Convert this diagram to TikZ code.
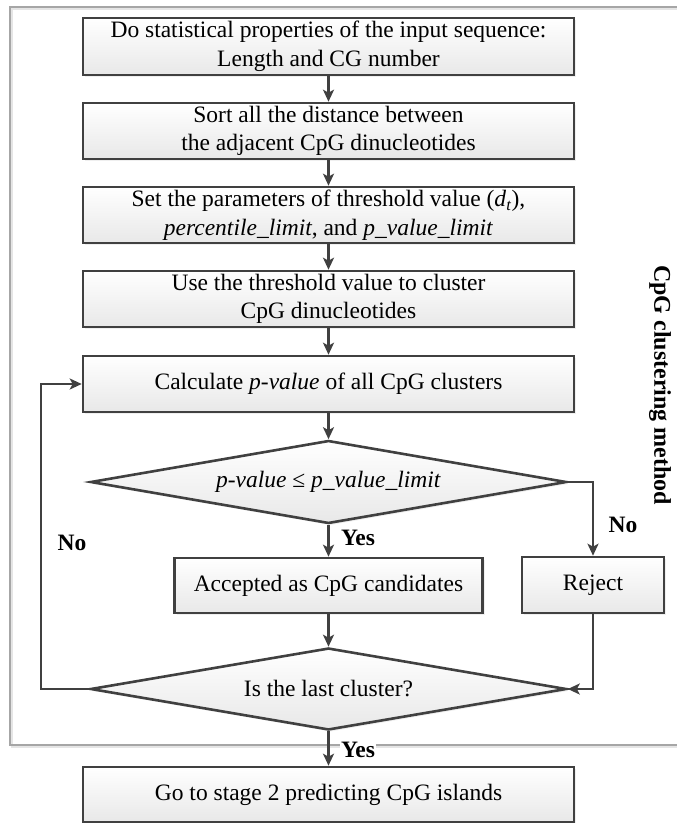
\documentclass[tikz,border=0pt]{standalone}
\usepackage{fontspec}
\setmainfont{Liberation Serif}
\usetikzlibrary{shapes.geometric,arrows.meta,shadows}
\definecolor{ln}{HTML}{404040}
\definecolor{fr}{HTML}{A6A6A6}
\tikzset{
  stepbox/.style={draw=ln, line width=2.6pt, top color=white, bottom color=black!9,
    inner sep=0pt, align=center, font=\fontsize{23.5}{28.5}\selectfont,
    drop shadow={shadow xshift=2pt, shadow yshift=-2pt, fill=black!12}},
  decision/.style={stepbox, diamond, shape aspect=5.7},
  arr/.style={draw=ln, line width=2.6pt, -{Stealth[length=12pt,width=11pt,inset=3pt]}},
  lbl/.style={font=\fontsize{23.5}{28}\selectfont\bfseries, inner sep=1pt},
}
\begin{document}
\begin{tikzpicture}[x=1pt,y=-1pt]
\useasboundingbox (0,0) rectangle (677,823);
\begin{scope}
  \clip (0,0) rectangle (677,823);
  \draw[black!10, line width=2.8pt] (12,9) rectangle (702,747);
  \draw[fr, line width=2.8pt] (10,7) rectangle (700,745);
\end{scope}

\node[stepbox, minimum width=491pt, minimum height=57pt] (b1) at (328.5,46.5)
  {Do statistical properties of the input sequence:\\Length and CG number};
\node[stepbox, minimum width=491pt, minimum height=56pt] (b2) at (328.5,131)
  {Sort all the distance between\\the adjacent CpG dinucleotides};
\node[stepbox, minimum width=491pt, minimum height=56pt] (b3) at (328.5,215)
  {Set the parameters of threshold value (\textit{d}\textsubscript{\textit{t}}),\\\textit{percentile\_limit}, and \textit{p\_value\_limit}};
\node[stepbox, minimum width=491pt, minimum height=56pt] (b4) at (328.5,299)
  {Use the threshold value to cluster\\CpG dinucleotides};
\node[stepbox, minimum width=491pt, minimum height=56pt] (b5) at (328.5,384)
  {Calculate \textit{p-value} of all CpG clusters};
\node[decision, minimum width=476pt, minimum height=83pt] (d1) at (328.5,482)
  {\textit{p-value} ≤ \textit{p\_value\_limit}};
\node[stepbox, minimum width=308pt, minimum height=55pt] (acc) at (328.5,585.5)
  {Accepted as CpG candidates};
\node[stepbox, minimum width=142pt, minimum height=56pt] (rej) at (593,585)
  {Reject};
\node[decision, minimum width=476pt, minimum height=82pt] (d2) at (328.5,689)
  {Is the last cluster?};
\node[stepbox, minimum width=491pt, minimum height=55pt] (fin) at (328.5,794.5)
  {Go to stage 2 predicting CpG islands};

\draw[arr] (b1.south) -- (b2.north);
\draw[arr] (b2.south) -- (b3.north);
\draw[arr] (b3.south) -- (b4.north);
\draw[arr] (b4.south) -- (b5.north);
\draw[arr] (b5.south) -- (d1.north);
\draw[arr] (d1.south) -- (acc.north);
\draw[arr] (acc.south) -- (d2.north);
\draw[arr] (d1.east) -| (rej.north);
\draw[arr] (rej.south) |- (d2.east);
\coordinate (lc) at (41,689);
\draw[arr] (d2.west) -- (lc) |- (b5.west);

\node[lbl] (yes1) at (358,538) {Yes};
\node[lbl, fill=white] (yes2) at (358,750) {Yes};
\draw[arr] (d2.south) -- (fin.north);
\node[lbl] (no1) at (72,543) {No};
\node[lbl] (no2) at (623,525) {No};
\node[font=\fontsize{24}{28}\selectfont\bfseries, rotate=-90] (title) at (660,385) {CpG clustering method};
\end{tikzpicture}
\end{document}
